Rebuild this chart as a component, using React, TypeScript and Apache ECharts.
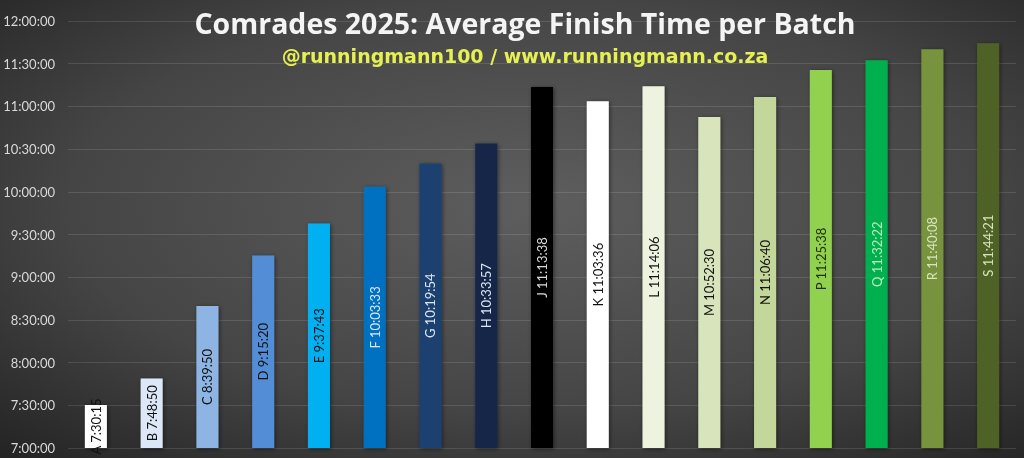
import React, { useEffect, useRef } from "react";
import * as echarts from "echarts";

const titleText = "Comrades 2025: Average Finish Time per Batch";
const subtitleText = "@runningmann100 / www.runningmann.co.za";

const batches = ["A", "B", "C", "D", "E", "F", "G", "H", "J", "K", "L", "M", "N", "P", "Q", "R", "S"];
const finishTimes = [
  "7:30:15", "7:48:50", "8:39:50", "9:15:20", "9:37:43", "10:03:33", "10:19:54", "10:33:57",
  "11:13:38", "11:03:36", "11:14:06", "10:52:30", "11:06:40", "11:25:38", "11:32:22", "11:40:08", "11:44:21",
];
const barColors = [
  "#ffffff", "#dce8f8", "#8db4e2", "#538dd5", "#00b0f0", "#0070c0", "#1c4070", "#12284a",
  "#000000", "#ffffff", "#eef3e0", "#d8e4bc", "#c4d79b", "#92d050", "#00b050", "#77933c", "#4f6228",
];
const labelColors = [
  "#111111", "#111111", "#111111", "#111111", "#111111", "#dce6f2", "#dce6f2", "#dce6f2",
  "#d9d9d9", "#111111", "#111111", "#111111", "#111111", "#1d2f0b", "#b8ecb8", "#d7e4bd", "#d7e4bd",
];
const axisMin = "7:00:00";
const axisMax = "12:00:00";
const axisStep = "0:30:00";

const toSec = (t: string) => {
  const [h, m, s] = t.split(":").map(Number);
  return h * 3600 + m * 60 + s;
};
const fmt = (v: number) => {
  const h = Math.floor(v / 3600);
  const m = Math.floor((v % 3600) / 60);
  const s = Math.round(v % 60);
  return `${h}:${String(m).padStart(2, "0")}:${String(s).padStart(2, "0")}`;
};

export default function App() {
  const ref = useRef<HTMLDivElement>(null);
  useEffect(() => {
    if (!ref.current) return;
    const chart = echarts.init(ref.current, undefined, { renderer: "svg" });
    const data = finishTimes.map((t, i) => ({
      value: toSec(t),
      itemStyle: {
        color: barColors[i],
        shadowBlur: 4,
        shadowColor: "rgba(0,0,0,0.5)",
        shadowOffsetX: 1,
        shadowOffsetY: 1,
      },
      label: { color: labelColors[i] },
    }));
    chart.setOption({
      animation: false,
      backgroundColor: {
        type: "radial",
        x: 0.52,
        y: 0.45,
        r: 0.75,
        colorStops: [
          { offset: 0, color: "#5e5e5e" },
          { offset: 0.6, color: "#454545" },
          { offset: 1, color: "#242424" },
        ],
      },
      graphic: [
        {
          type: "text",
          x: 525,
          y: 23,
          style: {
            text: titleText,
            fill: "#f4f4f4",
            font: "bold 28.5px 'Open Sans'",
            textAlign: "center",
            textVerticalAlign: "middle",
            shadowBlur: 3,
            shadowColor: "rgba(0,0,0,0.8)",
            shadowOffsetX: 2,
            shadowOffsetY: 2,
          },
          z: 100,
        },
        {
          type: "text",
          x: 525,
          y: 56,
          style: {
            text: subtitleText,
            fill: "#e6f052",
            font: "bold 19px 'DejaVu Sans'",
            textAlign: "center",
            textVerticalAlign: "middle",
          },
          z: 100,
        },
      ],
      grid: { left: 68, right: 8, top: 21, bottom: 10, containLabel: false },
      xAxis: {
        type: "category",
        data: batches,
        axisLabel: { show: false },
        axisTick: { show: false },
        axisLine: { show: false },
      },
      yAxis: {
        type: "value",
        min: toSec(axisMin),
        max: toSec(axisMax),
        interval: toSec(axisStep),
        axisLabel: {
          formatter: (v: number) => fmt(v),
          color: "#d9d9d9",
          fontFamily: "Lato",
          fontSize: 13,
          margin: 13,
        },
        splitLine: { lineStyle: { color: "rgba(255,255,255,0.12)", width: 1 } },
        axisLine: { show: false },
        axisTick: { show: false },
      },
      series: [
        {
          type: "bar",
          data,
          barWidth: 22,
          label: {
            show: true,
            position: "inside",
            rotate: 90,
            fontFamily: "Lato",
            fontSize: 13,
            formatter: (p: any) => `${batches[p.dataIndex]} ${finishTimes[p.dataIndex]}`,
          },
        },
      ],
    });
    return () => chart.dispose();
  }, []);
  return (
    <div
      ref={ref}
      style={{ position: "fixed", left: 0, top: 0, width: 1024, height: 458 }}
    />
  );
}
